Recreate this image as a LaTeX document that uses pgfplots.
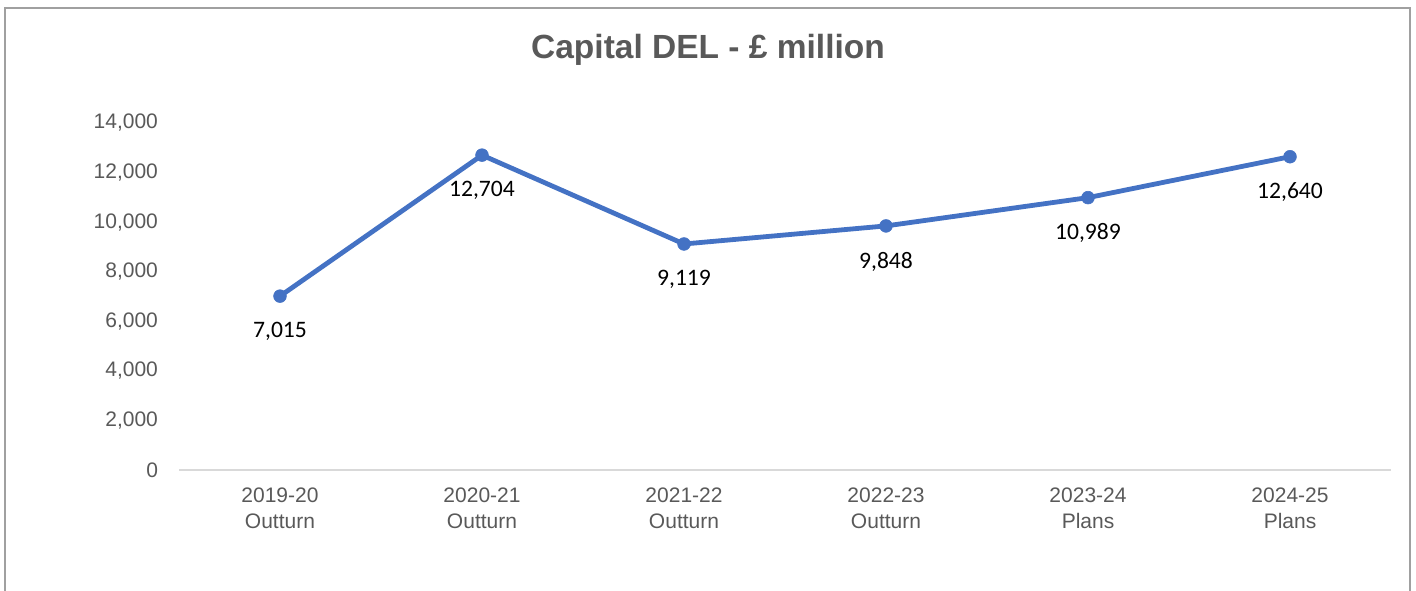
\documentclass[border=0pt]{standalone}
\usepackage{pgfplots}
\pgfplotsset{compat=1.18}
\usepackage{fontspec}
\setmainfont{Liberation Sans}
\newfontfamily\carlito{Carlito}
\definecolor{lineblue}{HTML}{4472C4}
\definecolor{txtgray}{HTML}{595959}
\definecolor{axgray}{HTML}{D9D9D9}
\definecolor{framegray}{HTML}{A0A0A0}
\begin{document}
\begin{tikzpicture}
\path[use as bounding box] (0pt,0pt) rectangle (708pt,295pt);
\draw[framegray, line width=1pt] (2.5pt,-1pt) -- (2.5pt,291pt) -- (705pt,291pt) -- (705pt,-1pt);
\node[font=\fontsize{16.75}{20}\selectfont\bfseries, text=txtgray] at (354pt,270pt) {Capital DEL - £ million};
\begin{axis}[
  at={(89.5pt,60pt)}, anchor=south west,
  scale only axis, width=606pt, height=173.5pt,
  xmin=-0.5, xmax=5.5, ymin=0, ymax=14000,
  xtick={0,1,2,3,4,5},
  xticklabels={{2019-20\\Outturn},{2020-21\\Outturn},{2021-22\\Outturn},{2022-23\\Outturn},{2023-24\\Plans},{2024-25\\Plans}},
  ytick={0,2000,4000,6000,8000,10000,12000,14000},
  scaled y ticks=false,
  major tick length=0pt,
  axis x line*=bottom, axis y line*=left,
  y axis line style={draw=none},
  x axis line style={draw=axgray, line width=0.8pt},
  tick label style={font=\fontsize{10.5}{12.8}\selectfont, text=txtgray},
  xticklabel style={align=center, yshift=-5.5pt},
  yticklabel style={xshift=-7pt},
  /pgf/number format/assume math mode=true,
  /pgf/number format/.cd, 1000 sep={,}, fixed, precision=0,
  /pgfplots/.cd,
  nodes near coords,
  every node near coord/.append style={anchor=north, yshift=-9.5pt, font=\carlito\fontsize{11.8}{14}\selectfont, text=black,
    /pgf/number format/assume math mode=true, /pgf/number format/1000 sep={,}},
  clip=false,
]
\addplot[color=lineblue, line width=2.4pt, line join=round, mark=*, mark size=3.2pt, mark options={solid, line width=0.3pt, fill=lineblue, draw=lineblue}]
coordinates {(0,7015) (1,12704) (2,9119) (3,9848) (4,10989) (5,12640)};
\end{axis}
\end{tikzpicture}
\end{document}
